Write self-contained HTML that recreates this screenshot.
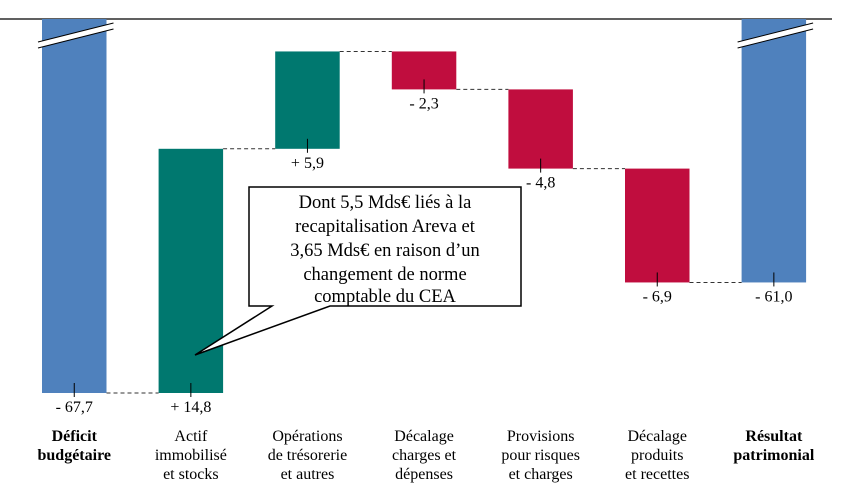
<!DOCTYPE html>
<html><head><meta charset="utf-8"><style>
body{margin:0;background:#fff}
svg text{font-family:"Liberation Serif",serif;fill:#000}
</style></head><body>
<svg id="c" width="848" height="496" xmlns="http://www.w3.org/2000/svg">
<line x1="0" y1="19" x2="832" y2="19" stroke="#000" stroke-width="1.3"/>
<g id="bars"></g>
<g>
<path d="M249,187 H521 V306 H330 L195,355 L272,306 H249 Z" fill="#fff" stroke="#000" stroke-width="1.5"/>
<text x="385" y="208" text-anchor="middle" font-size="18.5">Dont 5,5 Mds€ liés à la</text>
<text x="385" y="232" text-anchor="middle" font-size="18.5">recapitalisation Areva et</text>
<text x="385" y="256" text-anchor="middle" font-size="18.5">3,65 Mds€ en raison d’un</text>
<text x="385" y="280" text-anchor="middle" font-size="18.5">changement de norme</text>
<text x="385" y="302" text-anchor="middle" font-size="18.5">comptable du CEA</text>
</g>
</svg>
<script>
const categories=[["Déficit","budgétaire"],["Actif","immobilisé","et stocks"],["Opérations","de trésorerie","et autres"],["Décalage","charges et","dépenses"],["Provisions","pour risques","et charges"],["Décalage","produits","et recettes"],["Résultat","patrimonial"]];
const values=[-67.7,14.8,5.9,-2.3,-4.8,-6.9,-61.0];
const labels=["- 67,7","+ 14,8","+ 5,9","- 2,3","- 4,8","- 6,9","- 61,0"];
const kinds=["total","delta","delta","delta","delta","delta","total"];
const NS="http://www.w3.org/2000/svg";
const g=document.getElementById('bars');
const y=v=>393-(v+67.7)*16.5;
const xL=i=>42+i*116.6, W=64.5;
function mk(t,a){const e=document.createElementNS(NS,t);for(const k in a)e.setAttribute(k,a[k]);g.appendChild(e);return e;}
let cum=0;
values.forEach((v,i)=>{
  let top,bot,col;
  const x=xL(i);
  if(kinds[i]==="total"){cum=v;top=19;bot=y(v);col="#4f81bd";}
  else{const a=cum,b=cum+v;cum=b;top=y(Math.max(a,b));bot=y(Math.min(a,b));col=v>=0?"#00786f":"#c00d3e";}
  const r=mk('rect',{x:x,y:top,width:W,height:bot-top,fill:col});
  
  
  if(kinds[i]==="total"){
    const p=mk('polygon',{points:`${x-4},${top+23} ${x+W+7},${top+4} ${x+W+7},${top+10} ${x-4},${top+29}`,fill:"#fff"});
    
    
    mk('line',{x1:x-4,y1:top+23,x2:x+W+7,y2:top+4,stroke:"#000","stroke-width":1});
    mk('line',{x1:x-4,y1:top+29,x2:x+W+7,y2:top+10,stroke:"#000","stroke-width":1});
  }
  const cx=x+W/2;
  const ty=bot; mk('line',{x1:cx,y1:ty-10,x2:cx,y2:ty+4,stroke:"#000","stroke-width":1});
  const t=mk('text',{x:cx,y:ty+19,"text-anchor":"middle","font-size":16});
  t.textContent=labels[i];
  
  
  if(i>0){
    const ly=kinds[i]==="total"?y(cum):(values[i]>=0?bot:top);
    const lv=mk('line',{x1:xL(i-1)+W,y1:ly,x2:x,y2:ly,stroke:"#333","stroke-width":1,"stroke-dasharray":"4,3"});
    
    
  }
  categories[i].forEach((s,j)=>{
    const c=mk('text',{x:cx,y:441+j*19,"text-anchor":"middle","font-size":16,"font-weight":kinds[i]==="total"?"bold":"normal"});
    c.textContent=s;
    
    
  });
});
</script>
</body></html>
